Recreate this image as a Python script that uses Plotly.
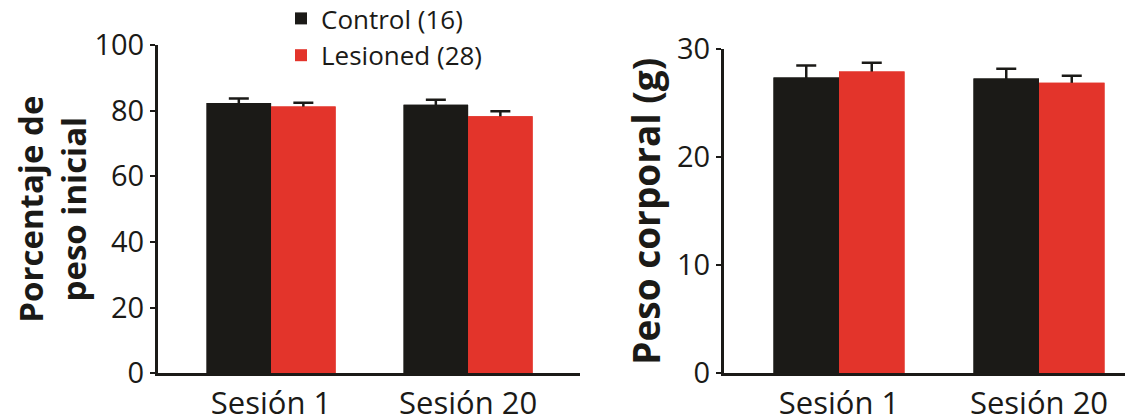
import plotly.graph_objects as go

sessions = ["Sesión 1", "Sesión 20"]
groups = ["Control (16)", "Lesioned (28)"]
colors = ["#1b1a17", "#e3342b"]

pct_control = [82.3, 81.8]
pct_control_err = [1.4, 1.5]
pct_lesioned = [81.3, 78.3]
pct_lesioned_err = [1.1, 1.5]

wt_control = [27.4, 27.3]
wt_control_err = [1.1, 0.9]
wt_lesioned = [27.95, 26.9]
wt_lesioned_err = [0.8, 0.65]

FONT = "Open Sans"
INK = "#1b1a17"

fig = go.Figure()

def add(vals, errs, color, name, xa, ya, show):
    # error bars (symmetric; lower half is hidden by the bar drawn on top)
    fig.add_trace(go.Bar(
        x=sessions, y=vals, name=name, marker=dict(color=color, line=dict(width=0)),
        error_y=dict(type="data", array=errs, color=INK, thickness=2.5, width=10),
        xaxis=xa, yaxis=ya, showlegend=False, offsetgroup=name, hoverinfo="skip",
    ))
    return dict(vals=vals, color=color, name=name, xa=xa, ya=ya, show=show)

def cover(d):
    fig.add_trace(go.Bar(
        x=sessions, y=d["vals"], name=d["name"], marker=dict(color=d["color"], line=dict(width=0)),
        xaxis=d["xa"], yaxis=d["ya"], showlegend=d["show"], offsetgroup=d["name"],
    ))

a = add(pct_control, pct_control_err, colors[0], groups[0], "x", "y", True)
b = add(pct_lesioned, pct_lesioned_err, colors[1], groups[1], "x", "y", True)
c = add(wt_control, wt_control_err, colors[0], groups[0], "x2", "y2", False)
d = add(wt_lesioned, wt_lesioned_err, colors[1], groups[1], "x2", "y2", False)
for t in (a, b, c, d):
    cover(t)

# the page keeps its 8px body margin; figure coordinates are page coordinates minus 8
OFF = 8
W, H = 1125, 410

def px(x):
    return (x - OFF) / W

def py(y):
    return 1 - (y - OFF) / H

xcommon = dict(type="category", showline=True, linewidth=3, linecolor=INK, automargin=False,
               ticks="", showgrid=False, zeroline=False,
               tickfont=dict(family=FONT, size=31, color=INK))
ycommon = dict(showline=True, linewidth=3, linecolor=INK, ticks="outside", automargin=False,
               ticklen=5, tickwidth=2, tickcolor=INK, showgrid=False, zeroline=False,
               tickfont=dict(family=FONT, size=29, color=INK))

fig.update_layout(
    width=W, height=H,
    margin=dict(l=0, r=0, t=0, b=0, autoexpand=False),
    paper_bgcolor="white", plot_bgcolor="white",
    barmode="group", bargap=0.345, bargroupgap=0,
    font=dict(family=FONT, color=INK),
    xaxis=dict(xcommon, domain=[px(158), px(580)], range=[-0.574, 1.568], anchor="y"),
    yaxis=dict(ycommon, domain=[py(373.3), py(45)], range=[0, 100], tickvals=[0, 20, 40, 60, 80, 100],
               anchor="x",
               title=dict(text="Porcentaje de<br>peso inicial", font=dict(family=FONT, size=33, weight="bold"),
                          standoff=34)),
    xaxis2=dict(xcommon, domain=[px(724), 1.0], range=[-0.575, 1.47], anchor="y2"),
    yaxis2=dict(ycommon, domain=[py(373.3), py(49.3)], range=[0, 30], tickvals=[0, 10, 20, 30],
                anchor="x2",
                title=dict(text="Peso corporal (g)", font=dict(family=FONT, size=37, weight="bold"),
                           standoff=6)),
    legend=dict(x=px(281), y=py(-5), xanchor="left", yanchor="top", bgcolor="rgba(0,0,0,0)",
                font=dict(family=FONT, size=26, color=INK), tracegroupgap=0,
                itemsizing="constant"),
)

fig.write_html("out.html", config={"displayModeBar": False})
